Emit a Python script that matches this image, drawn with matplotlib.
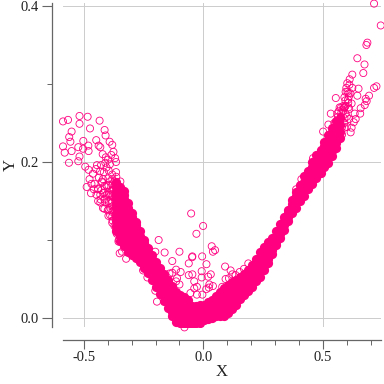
import matplotlib
matplotlib.use("Agg")
import matplotlib.pyplot as plt
from matplotlib.ticker import MultipleLocator

# dense band, one list of y values per x column
band_x = [
    -0.431, -0.414, -0.397, -0.381, -0.364, -0.347, -0.331, -0.314, -0.297, -0.280,
    -0.264, -0.247, -0.230, -0.213, -0.197, -0.180, -0.163, -0.146, -0.130, -0.113,
    -0.096, -0.079, -0.063, -0.046, -0.029, -0.013, 0.004, 0.021, 0.038, 0.054,
    0.071, 0.088, 0.105, 0.121, 0.138, 0.155, 0.172, 0.188, 0.205, 0.222,
    0.238, 0.255, 0.272, 0.289, 0.305, 0.322, 0.339, 0.356, 0.372, 0.389,
    0.406, 0.423, 0.439, 0.456, 0.473, 0.490, 0.506, 0.523, 0.540, 0.556,
    0.573, 0.590, 0.607,
]
band_y = [
    [0.148, 0.158],
    [0.140, 0.152, 0.161, 0.169],
    [0.131, 0.139, 0.150, 0.158, 0.170, 0.179],
    [0.122, 0.130, 0.136, 0.143, 0.149, 0.156, 0.163, 0.171, 0.178, 0.184],
    [0.111, 0.118, 0.124, 0.129, 0.135, 0.141, 0.146, 0.152, 0.157, 0.163, 0.168, 0.174, 0.181],
    [0.099, 0.105, 0.112, 0.117, 0.123, 0.128, 0.134, 0.139, 0.145, 0.151, 0.156, 0.162, 0.168, 0.175],
    [0.092, 0.098, 0.103, 0.109, 0.114, 0.120, 0.125, 0.131, 0.136, 0.142, 0.147, 0.153, 0.158, 0.163],
    [0.085, 0.091, 0.096, 0.102, 0.107, 0.113, 0.118, 0.124, 0.129, 0.135, 0.141, 0.147],
    [0.081, 0.087, 0.092, 0.098, 0.103, 0.109, 0.114, 0.120, 0.125, 0.130, 0.134],
    [0.077, 0.082, 0.088, 0.093, 0.099, 0.104, 0.110, 0.115, 0.119, 0.123],
    [0.072, 0.077, 0.083, 0.088, 0.094, 0.099, 0.105, 0.111],
    [0.064, 0.070, 0.075, 0.081, 0.086, 0.092, 0.096, 0.100],
    [0.058, 0.064, 0.069, 0.075, 0.080, 0.085, 0.090],
    [0.049, 0.055, 0.060, 0.066, 0.071, 0.076, 0.081],
    [0.040, 0.046, 0.051, 0.057, 0.062, 0.067, 0.072],
    [0.031, 0.037, 0.042, 0.048, 0.053, 0.059, 0.064],
    [0.022, 0.028, 0.033, 0.039, 0.044, 0.050, 0.056],
    [0.013, 0.019, 0.024, 0.030, 0.035, 0.041, 0.049],
    [0.002, 0.008, 0.014, 0.019, 0.025, 0.030, 0.036, 0.041],
    [-0.005, 0.001, 0.006, 0.012, 0.017, 0.023, 0.028, 0.034],
    [-0.007, -0.001, 0.004, 0.010, 0.015, 0.021, 0.029],
    [-0.008, -0.003, 0.003, 0.008, 0.014, 0.020, 0.027],
    [-0.008, -0.002, 0.004, 0.009, 0.015, 0.023],
    [-0.008, -0.003, 0.002, 0.008, 0.015],
    [-0.007, -0.002, 0.004, 0.009, 0.015],
    [-0.006, -0.001, 0.005, 0.010, 0.017],
    [-0.003, 0.002, 0.008, 0.013, 0.017],
    [-0.001, 0.004, 0.010, 0.015, 0.020],
    [0.000, 0.005, 0.011, 0.017, 0.023],
    [0.002, 0.007, 0.013, 0.018, 0.024, 0.028],
    [0.002, 0.008, 0.013, 0.019, 0.024, 0.029, 0.033],
    [0.003, 0.009, 0.014, 0.020, 0.025, 0.031, 0.038],
    [0.006, 0.012, 0.017, 0.023, 0.028, 0.034, 0.042],
    [0.011, 0.016, 0.022, 0.027, 0.033, 0.039, 0.046],
    [0.017, 0.022, 0.028, 0.033, 0.039, 0.044, 0.049],
    [0.025, 0.030, 0.036, 0.041, 0.047, 0.052],
    [0.030, 0.036, 0.041, 0.047, 0.052, 0.056],
    [0.035, 0.041, 0.046, 0.052, 0.057, 0.061],
    [0.040, 0.046, 0.051, 0.057, 0.062, 0.068],
    [0.047, 0.052, 0.058, 0.063, 0.069, 0.076],
    [0.053, 0.059, 0.064, 0.070, 0.076, 0.084],
    [0.061, 0.067, 0.072, 0.078, 0.084, 0.091],
    [0.071, 0.076, 0.082, 0.088, 0.094, 0.097],
    [0.082, 0.087, 0.093, 0.098, 0.103],
    [0.093, 0.098, 0.104, 0.111],
    [0.103, 0.108, 0.114, 0.120],
    [0.113, 0.119, 0.124, 0.129],
    [0.124, 0.130, 0.135, 0.139],
    [0.135, 0.141, 0.146, 0.151],
    [0.141, 0.147, 0.152, 0.157, 0.161],
    [0.150, 0.155, 0.161, 0.166, 0.171],
    [0.157, 0.163, 0.168, 0.174, 0.182],
    [0.165, 0.170, 0.176, 0.182, 0.189],
    [0.172, 0.178, 0.183, 0.189, 0.194, 0.200],
    [0.180, 0.185, 0.191, 0.196, 0.202, 0.209],
    [0.186, 0.192, 0.197, 0.203, 0.209, 0.216],
    [0.193, 0.198, 0.204, 0.209, 0.215, 0.220, 0.225],
    [0.199, 0.205, 0.210, 0.216, 0.221, 0.227, 0.235],
    [0.208, 0.214, 0.219, 0.225, 0.231, 0.238, 0.244],
    [0.218, 0.224, 0.231, 0.238, 0.246, 0.253],
    [0.231, 0.239, 0.247, 0.256],
    [0.244, 0.256, 0.270],
    [0.270, 0.288],
]

# thinner cloud and stray points around the band
sparse_x = [
    -0.587, -0.566, -0.518, -0.484, -0.434, -0.518, -0.474, -0.413, -0.551, -0.561,
    -0.409, -0.556, -0.502, -0.448, -0.392, -0.587, -0.523, -0.503, -0.481, -0.438,
    -0.431, -0.381, -0.580, -0.551, -0.480, -0.518, -0.421, -0.376, -0.369, -0.562,
    -0.523, -0.365, -0.494, -0.480, -0.445, -0.410, -0.488, -0.470, -0.476, -0.462,
    -0.455, -0.449, -0.441, -0.437, -0.428, -0.423, -0.416, -0.405, -0.399, -0.391,
    -0.385, -0.468, -0.458, -0.447, -0.432, -0.420, -0.408, -0.396, -0.440, -0.426,
    -0.187, -0.162, -0.100, -0.350, -0.340, -0.323, -0.130, -0.201, -0.051, -0.061,
    -0.047, -0.114, -0.142, -0.130, -0.095, -0.061, -0.110, -0.100, -0.114, -0.194,
    -0.252, -0.234, -0.201, -0.054, -0.079, -0.354, -0.364, -0.420, -0.001, -0.029,
    0.035, 0.049, 0.040, -0.005, -0.046, 0.013, 0.091, -0.007, -0.046, 0.031,
    0.020, 0.114, 0.121, 0.135, 0.093, 0.107, -0.007, -0.038, -0.027, 0.025,
    0.040, 0.012, -0.038, 0.079, -0.004, -0.027, 0.023, 0.152, 0.170, 0.188,
    0.714, 0.742, 0.686, 0.682, 0.644, 0.674, 0.669, 0.623, 0.724, 0.714,
    0.612, 0.602, 0.649, 0.554, 0.693, 0.679, 0.683, 0.675, 0.658, 0.656,
    0.633, 0.637, 0.629, 0.533, 0.620, 0.616, 0.501, 0.523, 0.595, 0.590,
    0.609, 0.644, 0.623, 0.595, 0.570, 0.563, 0.459, 0.410, 0.388, 0.594,
    0.603, 0.611, 0.586, 0.577, 0.598, 0.590, 0.573, 0.565, 0.582, 0.606,
]
sparse_y = [
    0.252, 0.254, 0.259, 0.258, 0.253, 0.249, 0.243, 0.241, 0.239, 0.232,
    0.234, 0.226, 0.227, 0.228, 0.226, 0.220, 0.219, 0.217, 0.221, 0.221,
    0.219, 0.222, 0.212, 0.214, 0.214, 0.207, 0.210, 0.213, 0.205, 0.199,
    0.201, 0.200, 0.194, 0.190, 0.196, 0.199, 0.168, 0.160, 0.178, 0.185,
    0.172, 0.191, 0.166, 0.180, 0.196, 0.174, 0.187, 0.193, 0.203, 0.197,
    0.209, 0.172, 0.165, 0.158, 0.188, 0.178, 0.206, 0.189, 0.150, 0.164,
    0.100, 0.084, 0.085, 0.083, 0.085, 0.076, 0.073, 0.085, 0.134, 0.070,
    0.078, 0.062, 0.057, 0.058, 0.059, 0.055, 0.051, 0.043, 0.047, 0.021,
    0.061, 0.052, 0.035, 0.032, -0.012, 0.100, 0.113, 0.141, 0.118, 0.108,
    0.092, 0.087, 0.085, 0.079, 0.079, 0.069, 0.066, 0.060, 0.056, 0.056,
    0.053, 0.061, 0.056, 0.055, 0.050, 0.051, 0.052, 0.047, 0.040, 0.043,
    0.041, 0.037, 0.038, 0.040, 0.030, 0.030, 0.039, 0.059, 0.063, 0.070,
    0.403, 0.375, 0.353, 0.350, 0.333, 0.325, 0.314, 0.312, 0.297, 0.295,
    0.306, 0.301, 0.294, 0.282, 0.285, 0.281, 0.278, 0.273, 0.269, 0.262,
    0.262, 0.255, 0.251, 0.262, 0.244, 0.238, 0.239, 0.248, 0.262, 0.270,
    0.284, 0.285, 0.295, 0.290, 0.270, 0.258, 0.205, 0.178, 0.165, 0.279,
    0.290, 0.299, 0.272, 0.263, 0.295, 0.283, 0.253, 0.250, 0.267, 0.276,
]

# extra open points at the two busy ends of the band
fringe_x = [
    -0.440, -0.430, -0.425, -0.418, -0.410, -0.405, -0.400, -0.395, -0.390, -0.385,
    -0.380, -0.375, -0.372, -0.368, -0.362, -0.358, -0.355, -0.352, -0.390, -0.380,
    -0.372, -0.365, -0.405, -0.395, -0.385, -0.375,
    0.545, 0.552, 0.558, 0.565, 0.570, 0.575, 0.580, 0.585, 0.590, 0.595,
    0.600, 0.605, 0.610, 0.615, 0.620, 0.560, 0.570, 0.580, 0.590, 0.600,
    0.610, 0.548, 0.556, 0.566, 0.576,
]
fringe_y = [
    0.165, 0.152, 0.175, 0.160, 0.148, 0.170, 0.138, 0.160, 0.132, 0.147,
    0.125, 0.138, 0.118, 0.155, 0.108, 0.130, 0.098, 0.145, 0.175, 0.165,
    0.175, 0.187, 0.158, 0.148, 0.158, 0.165,
    0.232, 0.245, 0.228, 0.252, 0.238, 0.258, 0.245, 0.265, 0.250, 0.272,
    0.258, 0.280, 0.268, 0.288, 0.275, 0.262, 0.248, 0.235, 0.270, 0.245,
    0.255, 0.250, 0.240, 0.265, 0.270,
]

x_ticks = [-0.5, 0.0, 0.5]
x_tick_labels = ["-0.5", "0.0", "0.5"]
y_ticks = [0.0, 0.2, 0.4]
y_tick_labels = ["0.0", "0.2", "0.4"]

PINK = "#ff0080"
GREY = "#666666"

plt.rcParams["font.family"] = ["Liberation Serif", "DejaVu Serif"]

fig = plt.figure(figsize=(3.84, 3.84), dpi=100)
ax = fig.add_axes([63 / 384, 1 - 327 / 384, (381 - 63) / 384, (327 - 3) / 384])

core_x, core_y = [], []
open_x, open_y = sparse_x + fringe_x, sparse_y + fringe_y
for x, column in zip(band_x, band_y):
    for y in column:
        # the overplotted part of the band reads as solid colour
        if (-0.37 < x <= 0.0 and y < 0.175) or 0.0 < x < 0.58:
            core_x.append(x)
            core_y.append(y)
        else:
            open_x.append(x)
            open_y.append(y)

ax.scatter(core_x, core_y, s=44, color=PINK, linewidths=0, zorder=3)
ax.scatter(open_x, open_y, s=26, facecolors="none", edgecolors=PINK, linewidths=0.6,
           clip_on=False, zorder=3)

ax.set_xlim(-0.587, 0.743)
ax.set_ylim(-0.0115, 0.4038)

ax.set_xticks(x_ticks, x_tick_labels)
ax.set_yticks(y_ticks, y_tick_labels)
ax.xaxis.set_minor_locator(MultipleLocator(0.1))
ax.yaxis.set_minor_locator(MultipleLocator(0.1))
ax.grid(True, which="major", color="#cccccc", linewidth=0.7, zorder=0)
ax.set_axisbelow(True)

for side in ["top", "right"]:
    ax.spines[side].set_visible(False)
ax.spines["left"].set_position(("outward", 8))
ax.spines["bottom"].set_position(("outward", 9.5))
for side in ["left", "bottom"]:
    ax.spines[side].set_color(GREY)
    ax.spines[side].set_linewidth(0.9)

ax.tick_params(axis="x", which="major", length=6.5, width=0.8, color=GREY,
               labelsize=10.5, labelcolor="#222222", pad=1.5)
ax.tick_params(axis="y", which="major", length=7.5, width=0.8, color=GREY,
               labelsize=10.5, labelcolor="#222222", pad=2)
ax.tick_params(axis="both", which="minor", length=3.5, width=0.7, color=GREY)

ax.set_xlabel("X", fontsize=12, labelpad=0, color="#222222")
ax.set_ylabel("Y", fontsize=12, labelpad=1, color="#222222")

fig.savefig("out.png", dpi=100)
